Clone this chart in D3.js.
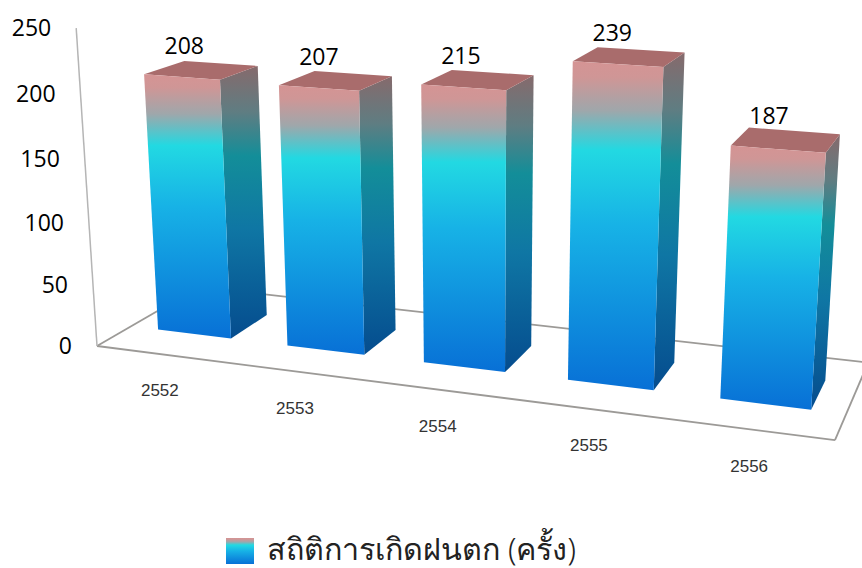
<!DOCTYPE html>
<html>
<head>
<meta charset="utf-8">
<script src="https://cdn.jsdelivr.net/npm/d3@7"></script>
<style>
  html, body { margin: 0; padding: 0; background: #fff; }
  svg { display: block; }
</style>
</head>
<body>
<div class="rain-chart"></div>
<script>
const years = ["2552", "2553", "2554", "2555", "2556"];
const rainCounts = [208, 207, 215, 239, 187];
const valueTicks = [0, 50, 100, 150, 200, 250];
const legendLabel = "สถิติการเกิดฝนตก (ครั้ง)";

const width = 862;
const height = 568;

const svg = d3
  .select(".rain-chart")
  .append("svg")
  .attr("width", width)
  .attr("height", height);

// world scales, all three axes run over 0..1 before the perspective step
const xScale = d3
  .scaleBand()
  .domain(years)
  .range([0, 1])
  .paddingInner(0.43)
  .paddingOuter(0.215);
const yScale = d3.scaleLinear().domain([0, 250]).range([0, 1]);
const zFront = 0.312;
const zBack = 0.695;

// perspective: vanishing points of the three axes plus the floor corner
const vpX = [-4720, -269];
const vpY = [480, 6200];
const vpZ = [1132, -253];
const origin = [97, 346];
const kX = -0.13285;
const kY = -0.0515;
const kZ = 0.1093;

function project(x, y, z) {
  const a = kX * x;
  const b = kY * y;
  const c = kZ * z;
  const w = a + b + c + 1;
  return [
    (a * vpX[0] + b * vpY[0] + c * vpZ[0] + origin[0]) / w,
    (a * vpX[1] + b * vpY[1] + c * vpZ[1] + origin[1]) / w,
  ];
}

const outline = d3.line().curve(d3.curveLinearClosed);
const segment = d3.line();

// gradients shared by the bars and the legend swatch
const defs = svg.append("defs");

function addGradient(id, stops) {
  const grad = defs
    .append("linearGradient")
    .attr("id", id)
    .attr("x1", 0)
    .attr("y1", 0)
    .attr("x2", 0)
    .attr("y2", 1);
  grad
    .selectAll("stop")
    .data(stops)
    .enter()
    .append("stop")
    .attr("offset", (d) => d[0])
    .attr("stop-color", (d) => d[1]);
}

addGradient("front-fill", [
  [0, "#d59494"],
  [0.05, "#cf9696"],
  [0.15, "#9fa7ab"],
  [0.27, "#22d9e2"],
  [0.5, "#17b2e6"],
  [1, "#0870d6"],
]);
addGradient("side-fill", [
  [0, "#866a6c"],
  [0.17, "#5f7d82"],
  [0.33, "#138e99"],
  [0.6, "#0f76a4"],
  [1, "#054c8e"],
]);

// floor and value axis lines
const floorLines = [
  [[0, 0, 0], [1, 0, 0]],
  [[0, 0, 0], [0, 0, 1]],
  [[1, 0, 0], [1, 0, 1]],
  [[0, 0, 1], [1, 0, 1]],
];
svg
  .selectAll(".floor-line")
  .data(floorLines)
  .enter()
  .append("path")
  .attr("class", "floor-line")
  .attr("d", (d) => segment(d.map((p) => project(p[0], p[1], p[2]))))
  .attr("fill", "none")
  .attr("stroke", "#9c9a97")
  .attr("stroke-width", 1.8);

svg
  .append("path")
  .attr("d", segment([project(0, 0, 0), project(0, yScale(250), 0)]))
  .attr("fill", "none")
  .attr("stroke", "#b5b5b5")
  .attr("stroke-width", 1.5);

// value axis labels follow the tilted axis
svg
  .selectAll(".value-tick")
  .data(valueTicks)
  .enter()
  .append("text")
  .attr("class", "value-tick")
  .attr("x", (d) => project(0, yScale(d), 0)[0] - 25)
  .attr("y", (d) => project(0, yScale(d), 0)[1] + 8)
  .attr("text-anchor", "end")
  .attr("font-family", "Open Sans")
  .attr("font-size", "23px")
  .attr("fill", "#000")
  .text((d) => d);

const barData = years.map((year, i) => ({ year: year, value: rainCounts[i] }));

const bars = svg
  .selectAll(".bar")
  .data(barData)
  .enter()
  .append("g")
  .attr("class", "bar");

// right side face
bars
  .append("path")
  .attr("d", (d) => {
    const x1 = xScale(d.year) + xScale.bandwidth();
    const top = yScale(d.value);
    return outline([
      project(x1, top, zFront),
      project(x1, top, zBack),
      project(x1, 0, zBack),
      project(x1, 0, zFront),
    ]);
  })
  .attr("fill", "url(#side-fill)");

// top face
bars
  .append("path")
  .attr("d", (d) => {
    const x0 = xScale(d.year);
    const x1 = x0 + xScale.bandwidth();
    const top = yScale(d.value);
    return outline([
      project(x0, top, zFront),
      project(x0, top, zBack),
      project(x1, top, zBack),
      project(x1, top, zFront),
    ]);
  })
  .attr("fill", "#a96c6c");

// front face
bars
  .append("path")
  .attr("d", (d) => {
    const x0 = xScale(d.year);
    const x1 = x0 + xScale.bandwidth();
    const top = yScale(d.value);
    return outline([
      project(x0, top, zFront),
      project(x1, top, zFront),
      project(x1, 0, zFront),
      project(x0, 0, zFront),
    ]);
  })
  .attr("fill", "url(#front-fill)");

// value labels over each bar
bars
  .append("text")
  .attr("x", (d) => {
    const mid = xScale(d.year) + xScale.bandwidth() / 2;
    return project(mid, yScale(d.value), 0.5)[0] - 17;
  })
  .attr("y", (d) => {
    const mid = xScale(d.year) + xScale.bandwidth() / 2;
    return project(mid, yScale(d.value), 0.5)[1] - 16;
  })
  .attr("text-anchor", "middle")
  .attr("font-family", "Open Sans")
  .attr("font-size", "23px")
  .attr("fill", "#000")
  .text((d) => d.value);

// year labels under the floor edge
svg
  .selectAll(".year-label")
  .data(years)
  .enter()
  .append("text")
  .attr("class", "year-label")
  .attr("x", (d) => project(xScale(d) + xScale.bandwidth() / 2, 0, 0)[0] - 2)
  .attr("y", (d) => project(xScale(d) + xScale.bandwidth() / 2, 0, 0)[1] + 42)
  .attr("text-anchor", "middle")
  .attr("font-family", "Liberation Sans")
  .attr("font-size", "17px")
  .attr("fill", "#333")
  .text((d) => d);

// legend
svg
  .append("rect")
  .attr("x", 226)
  .attr("y", 538)
  .attr("width", 28)
  .attr("height", 26)
  .attr("fill", "url(#front-fill)");

svg
  .append("text")
  .attr("x", 267)
  .attr("y", 559.5)
  .attr("font-family", "Noto Sans, DejaVu Sans, sans-serif")
  .attr("font-size", "30.5px")
  .attr("font-weight", 300)
  .attr("fill", "#222")
  .text(legendLabel);
</script>
</body>
</html>
